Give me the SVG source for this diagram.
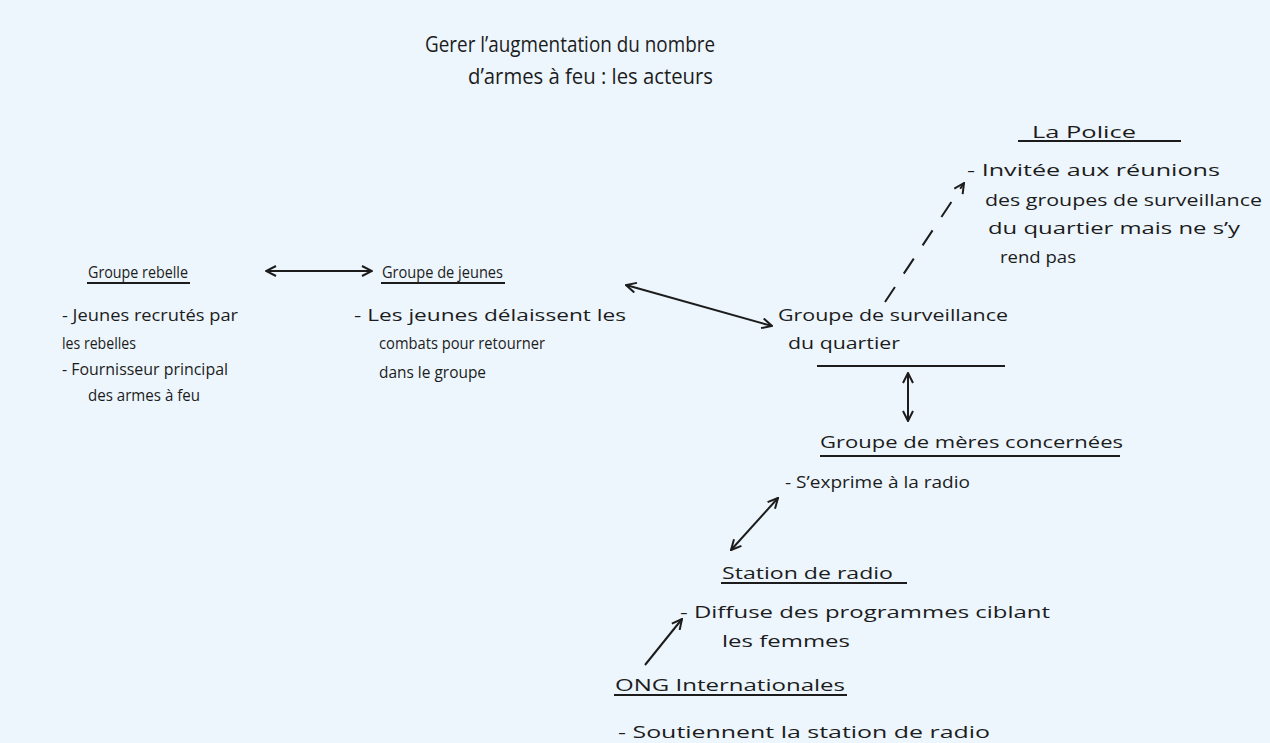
<svg xmlns="http://www.w3.org/2000/svg" width="1270" height="743" viewBox="0 0 1270 743">
<style>
text{font-family:"Open Sans","Liberation Sans",sans-serif;fill:#1c1c1c;font-size:17px}
.t{font-size:22px}
.u{stroke:#1c1c1c;stroke-width:2;fill:none}
.c{stroke:#1c1c1c;stroke-width:2;fill:none;marker-end:url(#ah)}
.d{marker-start:url(#ah)}
</style>
<defs>
<marker id="ah" viewBox="0 0 12 12" refX="11" refY="6" markerWidth="12" markerHeight="12" markerUnits="userSpaceOnUse" orient="auto-start-reverse">
<path d="M1,1 L11,6 L1,11" fill="none" stroke="#1c1c1c" stroke-width="2"/>
</marker>
</defs>
<rect width="1270" height="743" fill="#edf6fc"/>
<g id="title">
<text class="t" x="425" y="52" textLength="290" lengthAdjust="spacingAndGlyphs">Gerer l’augmentation du nombre</text>
<text class="t" x="468" y="84" textLength="245" lengthAdjust="spacingAndGlyphs">d’armes à feu : les acteurs</text>
</g>
<g id="police">
<text x="1032" y="138" textLength="104" lengthAdjust="spacingAndGlyphs">La Police</text>
<line class="u" x1="1018" y1="141" x2="1181" y2="141"/>
<text x="967" y="176" textLength="253" lengthAdjust="spacingAndGlyphs">- Invitée aux réunions</text>
<text x="985" y="206" textLength="277" lengthAdjust="spacingAndGlyphs">des groupes de surveillance</text>
<text x="988" y="234" textLength="252" lengthAdjust="spacingAndGlyphs">du quartier mais ne s’y</text>
<text x="1000" y="263" textLength="76" lengthAdjust="spacingAndGlyphs">rend pas</text>
</g>
<g id="rebelle">
<text x="88" y="278" textLength="100" lengthAdjust="spacingAndGlyphs">Groupe rebelle</text>
<line class="u" x1="87" y1="283" x2="190" y2="283"/>
<text x="62" y="321" textLength="176" lengthAdjust="spacingAndGlyphs">- Jeunes recrutés par</text>
<text x="62" y="349" textLength="74" lengthAdjust="spacingAndGlyphs">les rebelles</text>
<text x="62" y="375" textLength="166" lengthAdjust="spacingAndGlyphs">- Fournisseur principal</text>
<text x="88" y="401" textLength="112" lengthAdjust="spacingAndGlyphs">des armes à feu</text>
</g>
<g id="jeunes">
<text x="382" y="278" textLength="121" lengthAdjust="spacingAndGlyphs">Groupe de jeunes</text>
<line class="u" x1="381" y1="283" x2="505" y2="283"/>
<text x="354" y="321" textLength="272" lengthAdjust="spacingAndGlyphs">- Les jeunes délaissent les</text>
<text x="379" y="349" textLength="166" lengthAdjust="spacingAndGlyphs">combats pour retourner</text>
<text x="379" y="378" textLength="107" lengthAdjust="spacingAndGlyphs">dans le groupe</text>
</g>
<g id="surveillance">
<text x="778" y="321" textLength="230" lengthAdjust="spacingAndGlyphs">Groupe de surveillance</text>
<text x="788" y="349" textLength="112" lengthAdjust="spacingAndGlyphs">du   quartier</text>
<line class="u" x1="817" y1="366" x2="1005" y2="366"/>
</g>
<g id="meres">
<text x="820" y="448" textLength="303" lengthAdjust="spacingAndGlyphs">Groupe de mères concernées</text>
<line class="u" x1="820" y1="456" x2="1120" y2="456"/>
<text x="785" y="488" textLength="185" lengthAdjust="spacingAndGlyphs">- S’exprime à la radio</text>
</g>
<g id="radio">
<text x="722" y="579" textLength="171" lengthAdjust="spacingAndGlyphs">Station de radio</text>
<line class="u" x1="721" y1="583" x2="907" y2="583"/>
<text x="680" y="618" textLength="370" lengthAdjust="spacingAndGlyphs">-   Diffuse des programmes ciblant</text>
<text x="722" y="647" textLength="128" lengthAdjust="spacingAndGlyphs">les femmes</text>
</g>
<g id="ong">
<text x="615" y="691" textLength="230" lengthAdjust="spacingAndGlyphs">ONG Internationales</text>
<line class="u" x1="614" y1="695" x2="847" y2="695"/>
<text x="618" y="738" textLength="372" lengthAdjust="spacingAndGlyphs">- Soutiennent la station de radio</text>
</g>
<g id="connectors">
<line class="c d" x1="266" y1="271" x2="372" y2="271"/>
<line class="c d" x1="626" y1="285" x2="772" y2="326"/>
<line class="c" x1="885" y1="302" x2="964" y2="183" stroke-dasharray="18,16"/>
<line class="c d" x1="908" y1="373" x2="908" y2="421"/>
<line class="c d" x1="731" y1="550" x2="778" y2="498"/>
<line class="c" x1="645" y1="665" x2="682" y2="619"/>
</g>
</svg>
